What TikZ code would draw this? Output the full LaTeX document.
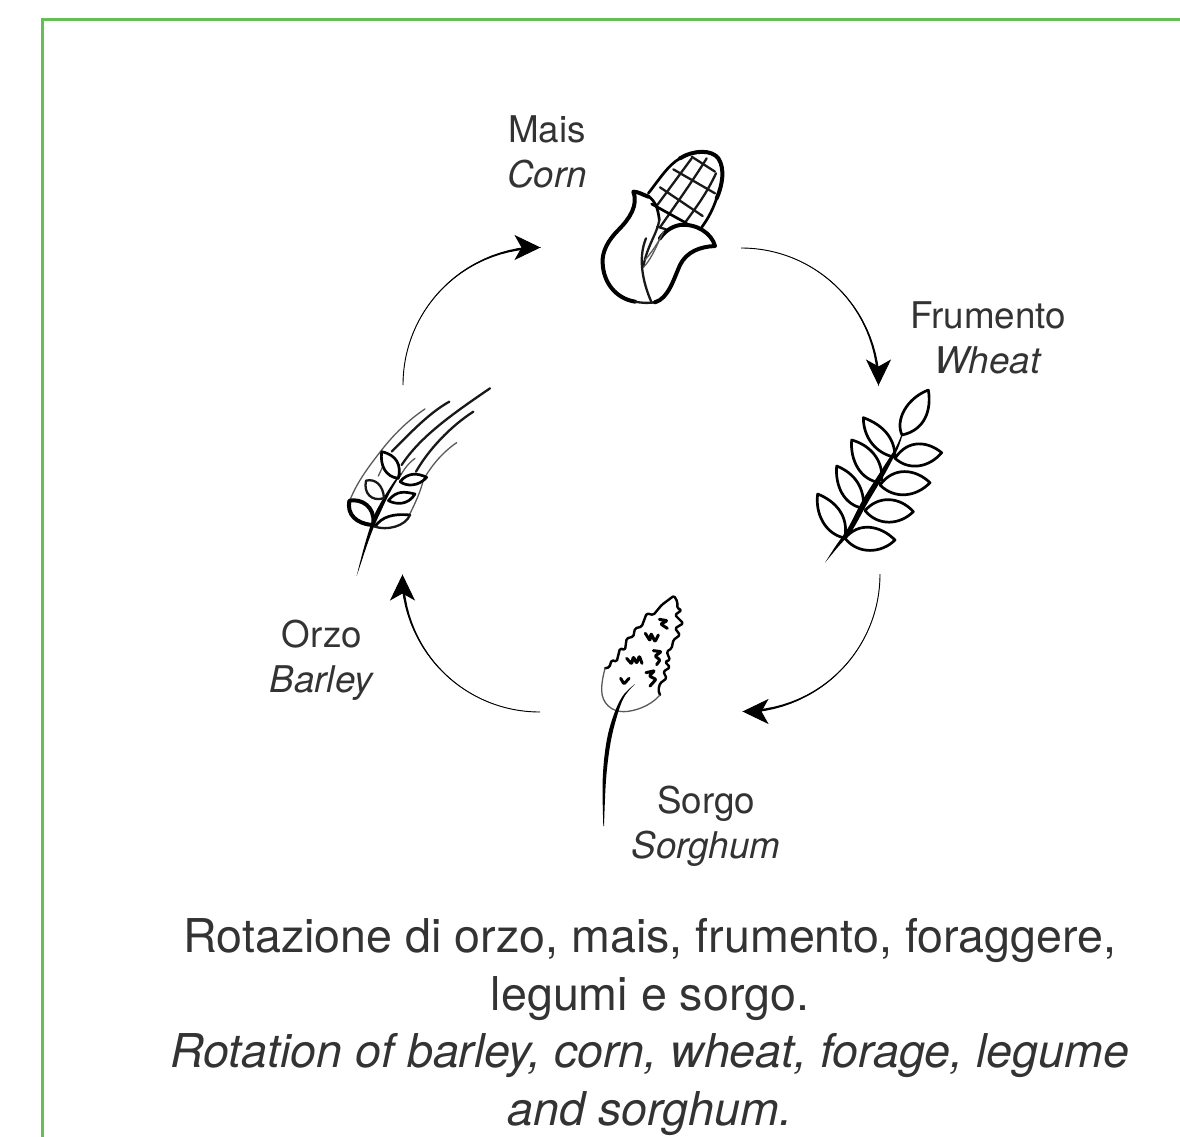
\documentclass[tikz,border=0pt]{standalone}
\usepackage{fontspec}
\setmainfont{TeX Gyre Heros}
\usetikzlibrary{arrows.meta}
\definecolor{framegreen}{HTML}{62C152}
\definecolor{inkgray}{HTML}{333333}
\tikzset{
  frameline/.style={draw=framegreen,line width=3pt},
  flow/.style={draw=black,line width=0.9pt},
  flowhead/.style={draw=black,line width=0.9pt,-{Stealth[length=26pt,width=25pt,inset=7pt]}},
  taper/.style={fill=black,draw=none},
  smalllabel/.style={align=center,text=inkgray,font=\fontsize{36.8}{45}\selectfont,inner sep=0pt},
  caption/.style={align=center,text=inkgray,font=\fontsize{46.6}{57.6}\selectfont,inner sep=0pt},
  ink/.style={draw=black,line width=2.7pt,line join=round,line cap=round},
  inkthick/.style={draw=black,line width=4pt,line join=round,line cap=round},
  inkmid/.style={draw=black!90,line width=2.3pt,line join=round,line cap=round},
  inkthin/.style={draw=black!65,line width=1.3pt,line join=round,line cap=round},
}
% tapered overlay along a quarter circle of radius 137.5 about (#1,#2), from angle #3 to #4, half-width from 0 to #5
\newcommand{\arctaper}[5]{%
  \fill[taper] plot[domain=0:1,samples=24] ({#1+(137.5+#5*\x*\x)*cos(#3+(#4-#3)*\x)},{#2+(137.5+#5*\x*\x)*sin(#3+(#4-#3)*\x)})
    -- plot[domain=1:0,samples=24] ({#1+(137.5-#5*\x*\x)*cos(#3+(#4-#3)*\x)},{#2+(137.5-#5*\x*\x)*sin(#3+(#4-#3)*\x)}) -- cycle;}
\begin{document}
\begin{tikzpicture}[x=1pt,y=-1pt]
\useasboundingbox (0,0) rectangle (1180,1137);
\draw[frameline] (42,1140) -- (42,19.5) -- (1183,19.5);

% ---- ring connectors
\coordinate (cornOut) at (741,248);
\coordinate (wheatIn) at (878.5,385.5);
\coordinate (wheatPre) at (878.5,370);
\coordinate (wheatOut) at (880,574);
\coordinate (sorghumIn) at (742.5,711.5);
\coordinate (sorghumPre) at (758,711.5);
\coordinate (sorghumOut) at (540,712);
\coordinate (barleyIn) at (402.5,574.5);
\coordinate (barleyPre) at (402.5,590);
\coordinate (barleyOut) at (403,385);
\coordinate (cornIn) at (540.5,247.5);
\coordinate (cornPre) at (525,247.5);
\draw[flow] (cornOut) to[bend left=45] (wheatIn);
\draw[flow] (wheatOut) to[bend left=45] (sorghumIn);
\draw[flow] (sorghumOut) to[bend left=45] (barleyIn);
\draw[flow] (barleyOut) to[bend left=45] (cornIn);
\draw[flowhead] (wheatPre) -- (wheatIn);
\draw[flowhead] (sorghumPre) -- (sorghumIn);
\draw[flowhead] (barleyPre) -- (barleyIn);
\draw[flowhead] (cornPre) -- (cornIn);
\arctaper{741}{385.5}{-90}{-6}{1.3}
\arctaper{742.5}{574}{0}{84}{1.3}
\arctaper{540}{574.5}{90}{174}{1.3}
\arctaper{540.5}{385}{180}{264}{1.3}

% ---- corn
\begin{scope}[shift={(580,130)},scale=1/3]
  \draw[ink] (205,190) .. controls (240,145) and (265,105) .. (300,85);
  \draw[inkthick] (300,85) .. controls (340,60) and (395,58) .. (415,85) .. controls (435,115) and (428,165) .. (410,205);
  \draw[ink] (410,205) .. controls (400,235) and (385,265) .. (365,292);
  \draw[inkmid] (335,85) -- (232,225);
  \draw[inkmid] (380,85) .. controls (340,150) and (290,220) .. (240,292);
  \draw[inkmid] (408,130) .. controls (380,190) and (350,230) .. (315,278);
  \draw[inkmid] (335,80) -- (405,125);
  \draw[inkmid] (280,118) -- (405,190);
  \draw[inkmid] (240,172) -- (368,258);
  \draw[ink] (215,222) -- (320,280);
  \draw[inkmid] (232,290) -- (258,298);
  \draw[inkthick] (205,200) .. controls (190,195) and (175,185) .. (160,185) .. controls (175,225) and (150,265) .. (115,300) .. controls (85,330) and (65,365) .. (68,400) .. controls (70,455) and (105,505) .. (165,515);
  \draw[inkmid] (165,515) .. controls (185,519) and (205,520) .. (225,517);
  \draw[inkthick] (225,517) .. controls (265,505) and (280,450) .. (300,405) .. controls (320,365) and (360,350) .. (405,348) .. controls (395,310) and (350,280) .. (300,285) .. controls (270,290) and (250,310) .. (240,325);
  \draw[ink] (205,198) .. controls (225,215) and (232,225) .. (238,270);
  \draw[inkmid] (238,270) .. controls (232,310) and (200,350) .. (190,410);
  \draw[inkthin] (240,325) .. controls (228,355) and (208,395) .. (190,412);
  \draw[inkmid] (198,325) .. controls (175,380) and (185,450) .. (215,518);
  \draw[inkthin] (250,305) .. controls (235,340) and (212,370) .. (195,390);
\end{scope}

% ---- wheat
\begin{scope}[shift={(800,370)},scale=1/3]
  \fill[black] plot[smooth,tension=0.5] coordinates {(75,578) (113,532) (156,482) (202,400) (256,309) (293,237) (307,196)} -- plot[smooth,tension=0.5] coordinates {(304,195) (287,233) (244,301) (188,390) (144,474) (107,528) (75,578)} -- cycle;
  \draw[ink] (306,195) .. controls (285,150) and (320,85) .. (385,60) .. controls (395,120) and (375,180) .. (306,195);
  \draw[ink] (285,262) .. controls (285,205) and (250,165) .. (190,143) .. controls (190,200) and (225,250) .. (285,262);
  \draw[ink] (245,330) .. controls (250,270) and (210,225) .. (155,210) .. controls (150,270) and (180,330) .. (240,338);
  \draw[ink] (190,415) .. controls (195,355) and (165,310) .. (110,288) .. controls (105,345) and (130,405) .. (190,415);
  \draw[ink] (135,500) .. controls (145,440) and (110,395) .. (53,372) .. controls (45,430) and (75,490) .. (130,503);
  \draw[ink] (285,265) .. controls (325,205) and (385,215) .. (425,248) .. controls (390,290) and (330,305) .. (285,265);
  \draw[ink] (240,345) .. controls (280,290) and (345,295) .. (390,338) .. controls (350,380) and (285,390) .. (240,345);
  \draw[ink] (195,422) .. controls (235,375) and (300,380) .. (340,425) .. controls (300,465) and (235,470) .. (195,422);
  \draw[ink] (135,505) .. controls (175,455) and (240,465) .. (285,510) .. controls (245,550) and (175,555) .. (135,505);
\end{scope}

% ---- sorghum
\begin{scope}[shift={(570,580)},scale=1/3]
  \draw[ink,line width=2.4pt,rounded corners=1.5pt] (105,265) -- (118,262) -- (125,240) -- (140,245) -- (150,205) -- (165,210) -- (170,175) -- (190,170) -- (195,145) -- (215,140) -- (230,100) -- (250,105) -- (275,75) -- (312,47) -- (322,65) -- (322,85) -- (335,90) -- (315,105) -- (340,130) -- (315,145) -- (330,165) -- (310,180) -- (305,205) -- (290,215) -- (300,240) -- (285,245) -- (300,262) -- (280,275) -- (290,295) -- (270,310) -- (265,330) -- (270,345);
  \draw[inkthin] (270,345) .. controls (240,380) and (190,395) .. (160,395) .. controls (125,395) and (95,370) .. (95,330) .. controls (95,305) and (100,285) .. (105,265);
  \fill[black] plot[smooth,tension=0.6] coordinates {(195,312) (162,352) (140,412) (121,492) (108,600) (102,738)} -- plot[smooth,tension=0.6] coordinates {(100,738) (98,600) (109,488) (130,408) (158,348) (195,312)} -- cycle;
  \draw[ink,line width=3pt,rounded corners=1pt] (268,118) -- (292,122) -- (272,132) -- (292,145);
  \draw[ink,line width=3pt,rounded corners=1pt] (226,160) -- (240,182) -- (243,160) -- (255,185) -- (265,165);
  \draw[ink,line width=3pt,rounded corners=1pt] (170,235) -- (185,252) -- (190,230) -- (200,250) -- (208,228) -- (216,250);
  \draw[ink,line width=3pt,rounded corners=1pt] (250,212) -- (274,215) -- (255,228) -- (270,240) -- (260,254);
  \draw[ink,line width=3pt,rounded corners=1pt] (228,278) -- (254,272) -- (238,288) -- (258,298) -- (240,318);
  \draw[ink,line width=3pt,rounded corners=1pt] (152,295) -- (162,312) -- (177,295);
\end{scope}

% ---- barley
\begin{scope}[shift={(330,370)},scale=1/3]
  \draw[inkthin] (285,117) .. controls (235,150) and (190,195) .. (155,240) .. controls (120,285) and (85,330) .. (62,385);
  \draw[inkmid] (358,95) .. controls (295,130) and (235,195) .. (185,245);
  \draw[inkmid] (480,55) .. controls (370,130) and (270,200) .. (215,285);
  \draw[inkmid] (430,125) .. controls (360,170) and (295,240) .. (258,305);
  \draw[inkthin] (380,218) .. controls (340,245) and (305,285) .. (280,330) .. controls (270,370) and (255,400) .. (238,435);
  \draw[inkthin] (255,265) .. controls (235,280) and (220,300) .. (210,320);
  \fill[black] (80,618) .. controls (100,560) and (120,490) .. (150,430) .. controls (170,385) and (190,345) .. (215,310) -- (210,310) .. controls (180,350) and (155,390) .. (135,430) .. controls (115,480) and (95,555) .. (80,618) -- cycle;
  \draw[inkthin] (158,290) -- (145,318);
  \draw[ink] (155,245) .. controls (200,255) and (215,285) .. (205,325) .. controls (165,320) and (150,285) .. (155,245);
  \draw[ink] (210,335) .. controls (235,305) and (265,310) .. (290,322) .. controls (265,350) and (230,350) .. (210,335);
  \draw[inkmid] (160,385) .. controls (125,395) and (100,370) .. (108,332) .. controls (135,325) and (160,345) .. (162,385);
  \draw[ink] (175,392) .. controls (200,360) and (225,365) .. (255,372) .. controls (235,405) and (200,405) .. (175,392);
  \draw[inkthick] (125,465) .. controls (80,460) and (50,435) .. (58,392) .. controls (95,385) and (135,410) .. (130,460);
  \draw[ink] (135,470) .. controls (155,440) and (190,430) .. (240,435);
  \draw[inkmid] (240,435) .. controls (225,470) and (170,482) .. (135,470);
\end{scope}

% ---- labels
\node[smalllabel] (maisLabel) at (547,152) {Mais\\\textit{Corn}};
\node[smalllabel] (frumentoLabel) at (988,338) {Frumento\\\textit{Wheat}};
\node[smalllabel] (sorgoLabel) at (706,826) {Sorgo\\\textit{Sorghum}};
\node[smalllabel] (orzoLabel) at (322,660) {Orzo\\\textit{Barley}};
\node[caption] (captionText) at (650,1027) {Rotazione di orzo, mais, frumento, foraggere,\\legumi e sorgo.\\\textit{Rotation of barley, corn, wheat, forage, legume}\\\textit{and sorghum.}};
\end{tikzpicture}
\end{document}
